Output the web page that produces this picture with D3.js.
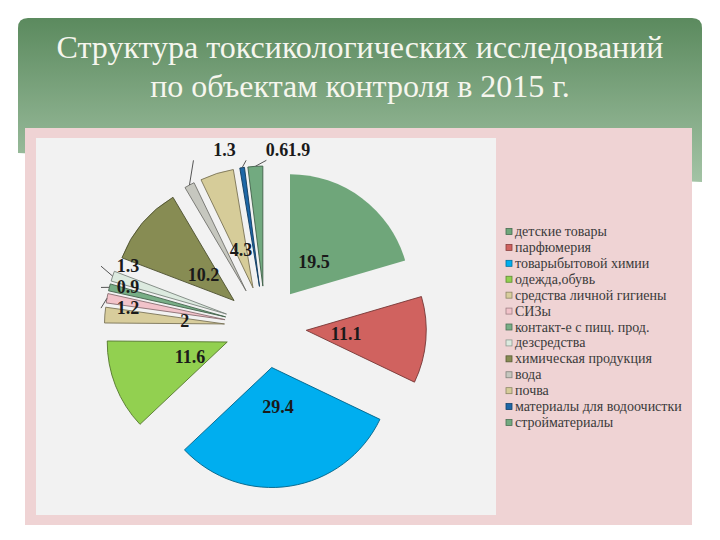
<!DOCTYPE html>
<html><head><meta charset="utf-8">
<script src="https://cdn.jsdelivr.net/npm/d3@7"></script>
<style>html,body{margin:0;padding:0;background:#fff;}svg{display:block;}</style>
</head><body>
<script>
const titleLines = ["Структура токсикологических исследований", "по объектам контроля в 2015 г."];
const categories = ["детские товары","парфюмерия","товарыбытовой химии","одежда,обувь","средства личной гигиены","СИЗы","контакт-е с пищ. прод.","дезсредства","химическая продукция","вода","почва","материалы для водоочистки","стройматериалы"];
const values = [19.5, 11.1, 29.4, 11.6, 2, 1.2, 0.9, 1.3, 10.2, 1.3, 4.3, 0.6, 1.9];
const colors = ["#6fa67a","#d0625f","#00aeef","#92d050","#d8cd9c","#f2c3ca","#78ae86","#dceadf","#878c53","#c6c7bf","#d6cc99","#1d67a6","#72aa80"];

(function(){
const W = 720, H = 540;
const font = "Liberation Serif, Times New Roman, serif";
const svg = d3.select("body").append("svg").attr("width", W).attr("height", H);
const defs = svg.append("defs");
const grad = defs.append("linearGradient").attr("id","hdr").attr("x1",0).attr("y1",0).attr("x2",0).attr("y2",1);
grad.append("stop").attr("offset","0%").attr("stop-color","#5b8a5e");
grad.append("stop").attr("offset","100%").attr("stop-color","#a3c3a5");

// header band
svg.append("path")
  .attr("d","M18,28 Q18,18 28,18 L692,18 Q702,18 702,28 L702,182 L18,153 Z")
  .attr("fill","url(#hdr)");
svg.append("g").selectAll("text").data(titleLines).join("text")
  .attr("x", W/2).attr("y",(d,i)=>58+i*39)
  .attr("text-anchor","middle")
  .style("font-family",font)
  .attr("font-size",32).attr("fill","#f6f6ee").text(d=>d);

// pink frame and panel
svg.append("rect").attr("x",25).attr("y",128).attr("width",667).attr("height",397).attr("fill","#efd3d4");
svg.append("rect").attr("x",36).attr("y",138).attr("width",460).attr("height",377).attr("fill","#f2f2f2");

// pie
const cx = 265.4, cy = 327, R = 120, explode = 41;
const pie = d3.pie().sort(null).value(d=>d)(values);
const arc = d3.arc().innerRadius(0).outerRadius(R);
const g = svg.append("g").attr("transform",`translate(${cx},${cy})`);
const mid = d => (d.startAngle + d.endAngle)/2;
const pt = (a, r) => [Math.sin(a)*r, -Math.cos(a)*r];

g.selectAll("path.slice").data(pie).join("path")
  .attr("class","slice")
  .attr("transform", d => { const p = pt(mid(d), explode); return `translate(${p[0]},${p[1]})`; })
  .attr("d", arc)
  .attr("fill", (d,i)=>colors[i])
  .attr("stroke", (d,i)=> i===0 ? "none" : d3.color(colors[i]).darker(1.6))
  .attr("stroke-width", 0.9);

const labels = [];
pie.forEach((d,i)=>{
  const a = mid(d);
  const apex = pt(a, explode);
  const outer = [apex[0]+pt(a,R)[0], apex[1]+pt(a,R)[1]];
  labels.push({i, a, apex, outer, v: values[i], inside: values[i] >= 2});
});
labels.filter(l=>l.inside).forEach(l=>{
  const p = pt(l.a, 40);
  l.x = l.apex[0] + p[0]; l.y = l.apex[1] + p[1];
});
const leftGroup = labels.filter(l=>!l.inside && l.outer[0] < -100);
const meanY = d3.mean(leftGroup, l=>l.outer[1]);
const minX = d3.min(leftGroup, l=>l.outer[0]);
leftGroup.forEach(l=>{
  l.y = l.outer[1] + (l.outer[1]-meanY)*0.9;
  l.x = minX + 21;
  l.leader = [l.outer, [minX - 6, l.y]];
});
const topGroup = labels.filter(l=>!l.inside && l.outer[0] >= -100).sort((a,b)=>a.outer[0]-b.outer[0]);
const minY = d3.min(topGroup, l=>l.outer[1]);
let prev = -Infinity;
topGroup.forEach(l=>{
  let x = l.outer[0] + 35;
  if (x < prev + 22) x = prev + 22;
  prev = x;
  l.x = x; l.y = minY - 16;
  l.leader = [l.outer, [l.outer[0] + (x - l.outer[0] - 30)*0.8, minY - 6]];
});

g.selectAll("line.leader").data(labels.filter(l=>l.leader)).join("line")
  .attr("class","leader")
  .attr("x1",l=>l.leader[0][0]).attr("y1",l=>l.leader[0][1])
  .attr("x2",l=>l.leader[1][0]).attr("y2",l=>l.leader[1][1])
  .attr("stroke","#555").attr("stroke-width",1);

g.selectAll("text.lbl").data(labels).join("text")
  .attr("class","lbl")
  .attr("x",l=>l.x).attr("y",l=>l.y)
  .attr("text-anchor","middle").attr("dominant-baseline","central")
  .style("font-family",font).attr("font-weight","bold").attr("font-size",18)
  .attr("fill","#1a1a1a")
  .text(l=>String(l.v));

// legend
const ly = d3.scalePoint().domain(categories).range([231.5, 422.5]);
const leg = svg.append("g").selectAll("g").data(categories).join("g")
  .attr("transform", d=>`translate(506,${ly(d)})`);
leg.append("rect").attr("x",0).attr("y",-3).attr("width",6).attr("height",6)
  .attr("fill",(d,i)=>colors[i])
  .attr("stroke",(d,i)=>d3.color(colors[i]).darker(1.2)).attr("stroke-width",0.8);
leg.append("text").attr("x",9).attr("y",0).attr("dominant-baseline","central")
  .style("font-family",font).attr("font-size",14).attr("fill","#3a3a3a")
  .text(d=>d);
})();
</script>
</body></html>
